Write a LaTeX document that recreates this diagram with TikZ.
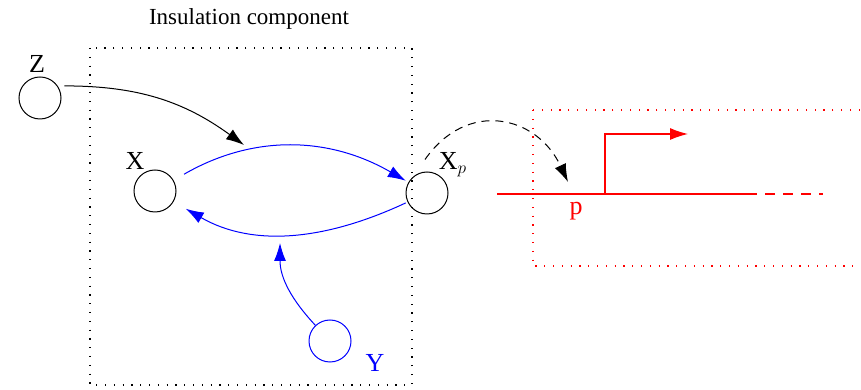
\documentclass[tikz,border=0pt]{standalone}
\usepackage{fontspec}
\setmainfont{Liberation Serif}
\usetikzlibrary{arrows.meta}

\begin{document}
\begin{tikzpicture}[x=1pt, y=1pt, line width=1pt,
  every node/.style={font=\fontsize{26}{30}\selectfont},
  stnode/.style={circle, draw, minimum size=42pt, inner sep=0pt},
  lbl/.style={anchor=base},
  arr/.style={-{Latex[length=18pt,width=12pt]}},
  boxdots/.style={line width=1.2pt, dash pattern=on 1.2pt off 7.6pt},
  sig/.style={red, line width=1.2pt}]
\useasboundingbox (0,0) rectangle (861,390);
\node[lbl, font=\fontsize{23}{27}\selectfont] (title) at (249,365) {Insulation component};
\draw[boxdots] (90,342) rectangle (412,5);
\draw[boxdots, red] (533,280) rectangle (866,124);
% states
\node[stnode] (Z) at (40,292) {};   \node[lbl] (zl) at (37,317) {Z};
\node[stnode] (X) at (155,199) {};  \node[lbl] (xl) at (135,220) {X};
\node[stnode] (Xp) at (427,197) {}; \node[lbl, anchor=base west] (xpl) at (435,220) {X$_p$};
\node[stnode, blue] (Y) at (330,49) {}; \node[lbl, blue] (yl) at (375,18) {Y};
% free ends
\coordinate (zend) at (244,245);
\coordinate (yend) at (280,147);
\coordinate (pend) at (568,208);
\coordinate (r0) at (497,196); \coordinate (r1) at (605,196);
\coordinate (r2) at (747,196); \coordinate (r3) at (823,196);
\coordinate (rtop) at (688,256);
\node[lbl, text=red] (p) at (576,175) {p};
% arrows
\draw[arr] ([shift={(5,3)}]Z.25) to[out=0, in=144] (zend);
\draw[arr, blue, shorten <=12pt, shorten >=3pt] (X) to[out=30, in=150] (Xp);
\draw[arr, blue, shorten <=2pt, shorten >=14pt] (Xp) to[out=205, in=-30] (X);
\draw[arr, blue] (Y.133) to[out=133, in=-90] (yend);
\draw[arr, dash pattern=on 8pt off 6pt] ([shift={(-2,12)}]Xp.north) to[out=55, in=115, looseness=1.3] (pend);
\draw[sig] (r0) -- (r2);
\draw[sig, dash pattern=on 10pt off 8pt] (r2) -- (r3);
\draw[sig, arr] (r1) |- (rtop);
\end{tikzpicture}
\end{document}
